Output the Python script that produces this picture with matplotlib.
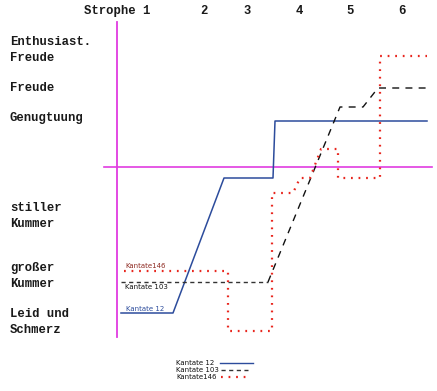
import matplotlib.pyplot as plt

# Values (horizontal = course of the piece,
# vertical = mood, small numbers = up / happier on the page)
k12_x = [121, 173, 224, 273, 275, 427]
k12_y = [313, 313, 178, 178, 121, 121]

k103_x = [121, 268, 340, 363, 378, 427]
k103_y = [282, 282, 107, 107, 88, 88]

k146_x = [124, 228, 228, 272, 272, 293, 300, 310, 321, 338, 338, 380, 380, 427]
k146_y = [271, 271, 331, 331, 193, 193, 178, 178, 149, 149, 178, 178, 56, 56]

strophe_labels = ["Strophe 1", "2", "3", "4", "5", "6"]
strophe_pos = [117, 204, 247, 299, 350, 402]

mood_labels = ["Enthusiast.\nFreude", "Freude", "Genugtuung",
               "stiller\nKummer", "großer\nKummer", "Leid und\nSchmerz"]
mood_pos = [50, 88, 118, 216, 276, 322]

series_names = ["Kantate 12", "Kantate 103", "Kantate146"]

fig = plt.figure(figsize=(4.37, 3.91), dpi=100)
ax = fig.add_axes([0, 0, 1, 1])
ax.set_xlim(0, 437)
ax.set_ylim(391, 0)
ax.axis("off")

# axes cross in magenta
magenta = "#e03ce0"
ax.plot([117, 117], [22, 337], color=magenta, lw=1.3)
ax.plot([104, 432], [167, 167], color=magenta, lw=1.2)

mono = dict(family="Liberation Mono", fontweight="semibold", fontsize=8.8, color="#1a1a1a")
for lab, x in zip(strophe_labels, strophe_pos):
    ax.text(x, 11, lab, ha="center", va="center", **mono)
for lab, y in zip(mood_labels, mood_pos):
    ax.text(10, y, lab, ha="left", va="center", linespacing=1.4, **mono)

blue = "#2c4c9c"
red = "#e8261e"

# the three cantatas
ax.plot(k12_x, k12_y, color=blue, lw=1.1)
ax.plot(k103_x[:2], k103_y[:2], color="#333333", lw=1.0, dashes=(3, 2.5))
ax.plot(k103_x[1:], k103_y[1:], color="#111111", lw=1.0, dashes=(5, 4.5))
ax.plot(k146_x, k146_y, color=red, lw=1.6, dashes=(0.8, 2.6))

# labels at the start of each curve
small = dict(family="DejaVu Sans", fontsize=5, va="center", ha="left")
ax.text(125, 266, series_names[2], color="#8e2a22", **small)
ax.text(125, 287, series_names[1], color="#111111", **small)
ax.text(126, 309, series_names[0], color=blue, **small)

# hand-made legend at the bottom
leg_y = [363, 370, 377]
for name, y in zip(series_names, leg_y):
    ax.text(176, y, name, color="#111111", **small)
ax.plot([220, 253], [leg_y[0], leg_y[0]], color=blue, lw=1.0)
ax.plot([221, 248], [leg_y[1], leg_y[1]], color="#333333", lw=1.0, dashes=(3, 2.5))
ax.plot([221, 251], [leg_y[2], leg_y[2]], color=red, lw=1.6, dashes=(0.8, 2.6))

fig.savefig("out.png", dpi=100)
